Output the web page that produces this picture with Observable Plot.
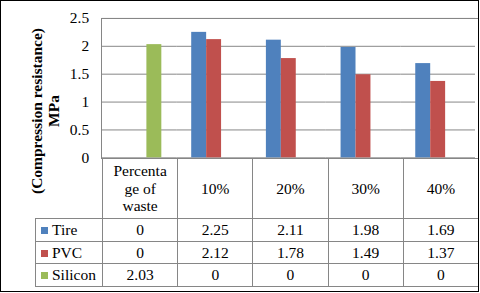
<!DOCTYPE html>
<html>
<head>
<meta charset="utf-8">
<script src="https://cdn.jsdelivr.net/npm/d3@7"></script>
<script src="https://cdn.jsdelivr.net/npm/@observablehq/plot@0.6"></script>
<style>
  html, body { margin: 0; padding: 0; background: #fff; }
  #wrap { position: relative; width: 479px; height: 292px; box-sizing: border-box; border: 1px solid #000; overflow: hidden; font-family: "Liberation Serif", "Times New Roman", serif; }
  #chart { position: absolute; left: -1px; top: -1px; }
  #frame { position: absolute; left: 100px; top: 17px; width: 378px; height: 141px; box-sizing: border-box; border: 1px solid #868686; border-bottom: none; pointer-events: none; }
  #ylabel { position: absolute; width: 220px; left: -65px; top: 93px; height: 34px; line-height: 16.5px; text-align: center; font-weight: bold; font-size: 15.5px; transform: rotate(-90deg); transform-origin: 50% 50%; white-space: nowrap; }
  table { position: absolute; left: 34px; top: 157px; border-collapse: collapse; table-layout: fixed; width: 443px; font-size: 15.5px; font-family: "Liberation Serif", "Times New Roman", serif; }
  td { border: 1px solid #868686; padding: 0; text-align: center; color: #000; }
  td.corner { border-top: none; border-left: none; }
  tr.head td { height: 59px; line-height: 17.5px; }
  tr.head td.cat0 { padding: 0 9px; overflow-wrap: anywhere; }
  td.leg { text-align: left; padding-left: 5px; white-space: nowrap; }
  .sw { display: inline-block; width: 7px; height: 7px; margin-right: 4px; vertical-align: 1px; }
</style>
</head>
<body>
<div id="wrap">
  <div id="chart"></div>
  <div id="frame"></div>
  <div id="ylabel"></div>
  <table id="tbl"></table>
</div>
<script>
const categories = ["Percentage of waste", "10%", "20%", "30%", "40%"];
const seriesNames = ["Tire", "PVC", "Silicon"];
const tireValues = [0, 2.25, 2.11, 1.98, 1.69];
const pvcValues = [0, 2.12, 1.78, 1.49, 1.37];
const siliconValues = [2.03, 0, 0, 0, 0];
const seriesColors = ["#4F81BD", "#C0504D", "#9BBB59"];
const yTicks = [0, 0.5, 1, 1.5, 2, 2.5];
const yLabelLines = ["(Compression resistance)", "MPa"];

const seriesValues = [tireValues, pvcValues, siliconValues];
const rows = [];
categories.forEach((c, i) => {
  seriesNames.forEach((s, j) => rows.push({category: c, series: s, value: seriesValues[j][i]}));
});

const chart = Plot.plot({
  width: 480,
  height: 293,
  marginLeft: 101,
  marginRight: 2,
  marginTop: 18,
  marginBottom: 135,
  style: {fontFamily: "'Liberation Serif', 'Times New Roman', serif", fontSize: "15.5px", color: "#000", background: "transparent"},
  fx: {domain: categories, padding: 0, axis: null},
  x: {domain: seriesNames, paddingInner: 0, paddingOuter: 0.8625, axis: null},
  y: {domain: [0, 2.5], ticks: yTicks},
  color: {domain: seriesNames, range: seriesColors},
  marks: [
    Plot.gridY(yTicks, {stroke: "#868686", strokeOpacity: 1}),
    Plot.barY(rows, {fx: "category", x: "series", y: "value", fill: "series"}),
    Plot.axisY(yTicks, {tickSize: 0, tickPadding: 13, tickFormat: d => String(d), label: null, fill: "#000"})
  ]
});
document.getElementById("chart").appendChild(chart);

document.getElementById("ylabel").innerHTML = yLabelLines.join("<br>");

// data table
const tbl = document.getElementById("tbl");
const colgroup = document.createElement("colgroup");
const c0 = document.createElement("col"); c0.style.width = "67px"; colgroup.appendChild(c0);
categories.forEach(() => { const c = document.createElement("col"); c.style.width = "75.2px"; colgroup.appendChild(c); });
tbl.appendChild(colgroup);
const head = document.createElement("tr"); head.className = "head";
const corner = document.createElement("td"); corner.className = "corner"; head.appendChild(corner);
categories.forEach((c, i) => { const td = document.createElement("td"); td.textContent = c; if (i === 0) td.className = "cat0"; head.appendChild(td); });
tbl.appendChild(head);
const rowHeights = ["22px", "21px", "22px"];
seriesNames.forEach((s, j) => {
  const tr = document.createElement("tr");
  const leg = document.createElement("td"); leg.className = "leg"; leg.style.height = rowHeights[j];
  const sw = document.createElement("span"); sw.className = "sw"; sw.style.background = seriesColors[j];
  leg.appendChild(sw); leg.appendChild(document.createTextNode(s));
  tr.appendChild(leg);
  seriesValues[j].forEach(v => { const td = document.createElement("td"); td.textContent = String(v); tr.appendChild(td); });
  tbl.appendChild(tr);
});
</script>
</body>
</html>
